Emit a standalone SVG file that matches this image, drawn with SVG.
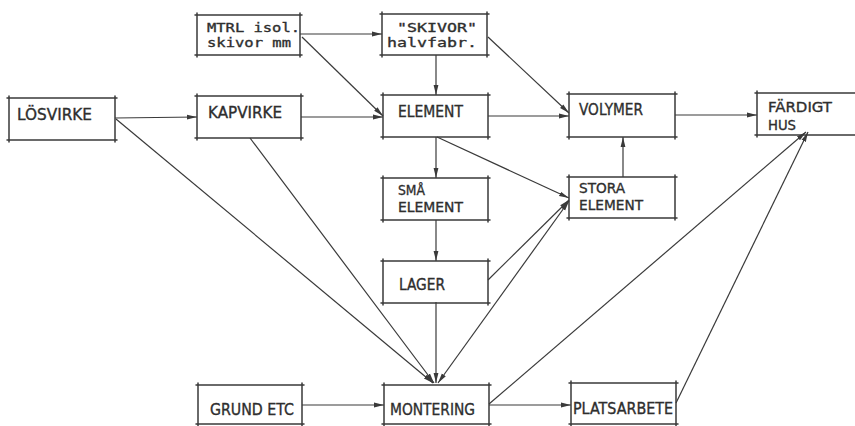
<svg xmlns="http://www.w3.org/2000/svg" width="855" height="426" viewBox="0 0 855 426">
  <style>
    .box { fill: none; stroke: #3a3a3a; stroke-width: 1.5; stroke-linecap: round; }
    .lbl { font-family: "DejaVu Sans", "Liberation Sans", sans-serif; font-size: 15px; fill: #2e2e2e; stroke: #2e2e2e; stroke-width: 0.35; }
    .two { font-size: 14px; }
    .mono { font-family: "DejaVu Sans Mono", "Liberation Mono", monospace; font-size: 13px; fill: #2e2e2e; stroke: #2e2e2e; stroke-width: 0.35; }
    .edge { fill: none; stroke: #3a3a3a; stroke-width: 1.2; }
  </style>
  <defs>
    <marker id="arr" viewBox="0 0 10 6" refX="10" refY="3" markerWidth="10" markerHeight="6" markerUnits="userSpaceOnUse" orient="auto-start-reverse">
      <path d="M0,0.6 L10,3 L0,5.4 Z" fill="#3a3a3a"/>
    </marker>
  </defs>
  <rect width="855" height="426" fill="#ffffff"/>

  <!-- connectors -->
  <g id="connectors" class="edge">
    <line x1="300" y1="34" x2="382" y2="34" marker-end="url(#arr)"/>
    <line x1="302" y1="37" x2="383" y2="116" marker-end="url(#arr)"/>
    <line x1="436" y1="55" x2="436" y2="95" marker-end="url(#arr)"/>
    <line x1="488" y1="37" x2="569" y2="113" marker-end="url(#arr)"/>
    <line x1="115" y1="118" x2="197" y2="117" marker-end="url(#arr)"/>
    <line x1="116" y1="119" x2="433" y2="383" marker-end="url(#arr)"/>
    <line x1="301" y1="117" x2="383" y2="117" marker-end="url(#arr)"/>
    <line x1="250" y1="138" x2="434" y2="383" marker-end="url(#arr)"/>
    <line x1="488" y1="116" x2="569" y2="116" marker-end="url(#arr)"/>
    <line x1="436" y1="137" x2="436" y2="178" marker-end="url(#arr)"/>
    <line x1="437" y1="137" x2="569" y2="198" marker-end="url(#arr)"/>
    <line x1="436" y1="220" x2="436" y2="261" marker-end="url(#arr)"/>
    <line x1="488" y1="280" x2="569" y2="200" marker-end="url(#arr)"/>
    <line x1="436" y1="302" x2="436" y2="383" marker-end="url(#arr)"/>
    <line x1="438" y1="383" x2="569" y2="201" marker-start="url(#arr)" marker-end="url(#arr)"/>
    <line x1="302" y1="405" x2="384" y2="405" marker-end="url(#arr)"/>
    <line x1="489" y1="405" x2="571" y2="405" marker-end="url(#arr)"/>
    <line x1="489" y1="404" x2="806" y2="132" marker-end="url(#arr)"/>
    <line x1="676" y1="403" x2="808" y2="132" marker-end="url(#arr)"/>
    <line x1="623" y1="177" x2="623" y2="137" marker-end="url(#arr)"/>
    <line x1="675" y1="115" x2="757" y2="115" marker-end="url(#arr)"/>
  </g>

  <!-- nodes: hand-drawn boxes with overshooting corners -->
  <g id="mtrl">
    <path class="box" d="M195,15 H302 M195,55 H302 M197,13 V57 M300,13 V57"/>
    <text class="mono" x="207" y="32" textLength="93" lengthAdjust="spacingAndGlyphs">MTRL isol.</text>
    <text class="mono" x="207" y="47" textLength="84" lengthAdjust="spacingAndGlyphs">skivor mm</text>
  </g>
  <g id="skivor">
    <path class="box" d="M380,14 H489 M380,55 H489 M382,12 V57 M487,12 V57"/>
    <text class="mono" x="397" y="32" textLength="80" lengthAdjust="spacingAndGlyphs">"SKIVOR"</text>
    <text class="mono" x="387" y="47" textLength="90" lengthAdjust="spacingAndGlyphs">halvfabr.</text>
  </g>
  <g id="losvirke">
    <path class="box" d="M7,98 H117 M7,140 H117 M9,96 V142 M115,96 V142"/>
    <text class="lbl" x="17" y="120" textLength="75" lengthAdjust="spacingAndGlyphs">LÖSVIRKE</text>
  </g>
  <g id="kapvirke">
    <path class="box" d="M195,96 H303 M195,138 H303 M197,94 V140 M301,94 V140"/>
    <text class="lbl" x="208" y="118" textLength="74" lengthAdjust="spacingAndGlyphs">KAPVIRKE</text>
  </g>
  <g id="element">
    <path class="box" d="M381,95 H490 M381,137 H490 M383,93 V139 M488,93 V139"/>
    <text class="lbl" x="398" y="117" textLength="65" lengthAdjust="spacingAndGlyphs">ELEMENT</text>
  </g>
  <g id="sma-element">
    <path class="box" d="M381,178 H490 M381,220 H490 M383,176 V222 M488,176 V222"/>
    <text class="lbl two" x="398" y="195" textLength="27" lengthAdjust="spacingAndGlyphs">SMÅ</text>
    <text class="lbl two" x="398" y="212" textLength="65" lengthAdjust="spacingAndGlyphs">ELEMENT</text>
  </g>
  <g id="lager">
    <path class="box" d="M381,261 H490 M381,303 H490 M383,259 V305 M488,259 V305"/>
    <text class="lbl" x="399" y="290" textLength="46" lengthAdjust="spacingAndGlyphs">LAGER</text>
  </g>
  <g id="volymer">
    <path class="box" d="M567,94 H677 M567,137 H677 M569,92 V139 M675,92 V139"/>
    <text class="lbl" x="579" y="115" textLength="64" lengthAdjust="spacingAndGlyphs">VOLYMER</text>
  </g>
  <g id="stora-element">
    <path class="box" d="M567,177 H677 M567,218 H677 M569,175 V220 M675,175 V220"/>
    <text class="lbl two" x="579" y="193" textLength="46" lengthAdjust="spacingAndGlyphs">STORA</text>
    <text class="lbl two" x="579" y="210" textLength="64" lengthAdjust="spacingAndGlyphs">ELEMENT</text>
  </g>
  <g id="fardigt-hus">
    <path class="box" d="M755,93 H860 M755,135 H860 M757,91 V137"/>
    <text class="lbl two" x="768" y="112" textLength="64" lengthAdjust="spacingAndGlyphs">FÄRDIGT</text>
    <text class="lbl two" x="768" y="130" textLength="28" lengthAdjust="spacingAndGlyphs">HUS</text>
  </g>
  <g id="grund">
    <path class="box" d="M196,385 H304 M196,424 H304 M198,383 V428 M302,383 V428"/>
    <text class="lbl" x="210" y="415" textLength="84" lengthAdjust="spacingAndGlyphs">GRUND ETC</text>
  </g>
  <g id="montering">
    <path class="box" d="M382,385 H491 M382,424 H491 M384,383 V428 M489,383 V428"/>
    <text class="lbl" x="390" y="415" textLength="85" lengthAdjust="spacingAndGlyphs">MONTERING</text>
  </g>
  <g id="platsarbete">
    <path class="box" d="M569,383 H678 M569,424 H678 M571,381 V428 M676,381 V428"/>
    <text class="lbl" x="573" y="414" textLength="100" lengthAdjust="spacingAndGlyphs">PLATSARBETE</text>
  </g>
</svg>
